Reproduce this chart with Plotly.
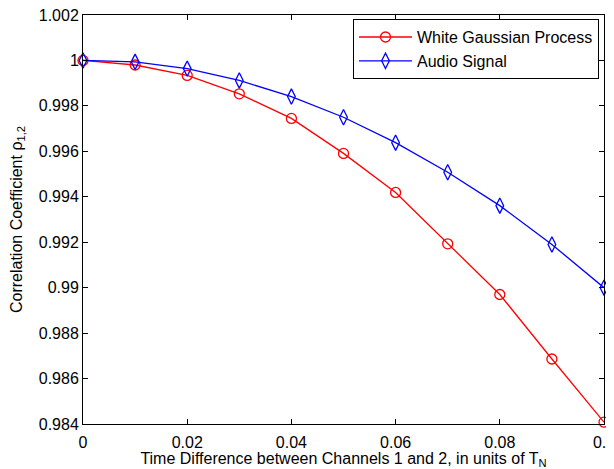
import plotly.graph_objects as go

x_vals = [0, 0.01, 0.02, 0.03, 0.04, 0.05, 0.06, 0.07, 0.08, 0.09, 0.1]
wgp_vals = [1.0, 0.9998, 0.99934, 0.99853, 0.99745, 0.99591, 0.99419, 0.99193, 0.9897, 0.98686, 0.98408]
audio_vals = [1.0, 0.99994, 0.99964, 0.99912, 0.99841, 0.9975, 0.99638, 0.99508, 0.99361, 0.9919, 0.9900]

x_ticks = [0, 0.02, 0.04, 0.06, 0.08, 0.1]
x_tick_labels = ["0", "0.02", "0.04", "0.06", "0.08", "0.1"]
y_ticks = [0.984, 0.986, 0.988, 0.99, 0.992, 0.994, 0.996, 0.998, 1.0, 1.002]
y_tick_labels = ["0.984", "0.986", "0.988", "0.99", "0.992", "0.994", "0.996", "0.998", "1", "1.002"]

font_family = "Liberation Sans, Arial, Helvetica, sans-serif"
FS = 16

fig = go.Figure()
fig.add_trace(go.Scatter(
    x=x_vals, y=wgp_vals, mode="lines+markers", name="White Gaussian Process",
    line=dict(color="#ff0000", width=1.3),
    marker=dict(symbol="circle-open", size=10, color="#ff0000", line=dict(width=1.3, color="#ff0000")),
    cliponaxis=False,
))
fig.add_trace(go.Scatter(
    x=x_vals, y=audio_vals, mode="lines+markers", name="Audio Signal",
    line=dict(color="#0000ff", width=1.3),
    marker=dict(symbol="diamond-tall-open", size=11, color="#0000ff", line=dict(width=1.3, color="#0000ff")),
    cliponaxis=False,
))

axis_common = dict(
    showgrid=False, zeroline=False, showline=True, linecolor="black", linewidth=1,
    mirror="ticks", ticks="inside", ticklen=5, tickcolor="black", tickwidth=1,
    tickfont=dict(family=font_family, size=FS, color="black"),
    automargin=False, ticklabeloverflow="allow",
)

# page body has an 8px default margin: figure is sized/margined to compensate
fig.update_layout(
    template="none",
    width=606, height=461,
    margin=dict(l=75, r=10, t=7, b=45),
    paper_bgcolor="white", plot_bgcolor="white",
    font=dict(family=font_family, size=FS, color="black"),
    xaxis=dict(range=[0, 0.1], tickvals=x_ticks, ticktext=x_tick_labels, ticklabelstandoff=4,
               title=dict(text="Time Difference between Channels 1 and 2, in units of T<sub>N</sub>",
                          font=dict(size=FS), standoff=2),
               **axis_common),
    yaxis=dict(range=[0.984, 1.002], tickvals=y_ticks, ticktext=y_tick_labels,
               title=dict(text="Correlation Coefficient ρ<sub>1,2</sub>", font=dict(size=FS), standoff=24),
               **axis_common),
    legend=dict(x=(353 - 83) / 521, y=0.99, xanchor="left", yanchor="top",
                bordercolor="black", borderwidth=1, bgcolor="white",
                font=dict(family=font_family, size=FS, color="black"),
                itemwidth=53, tracegroupgap=0),
    showlegend=True,
)

fig.write_html("out.html")
